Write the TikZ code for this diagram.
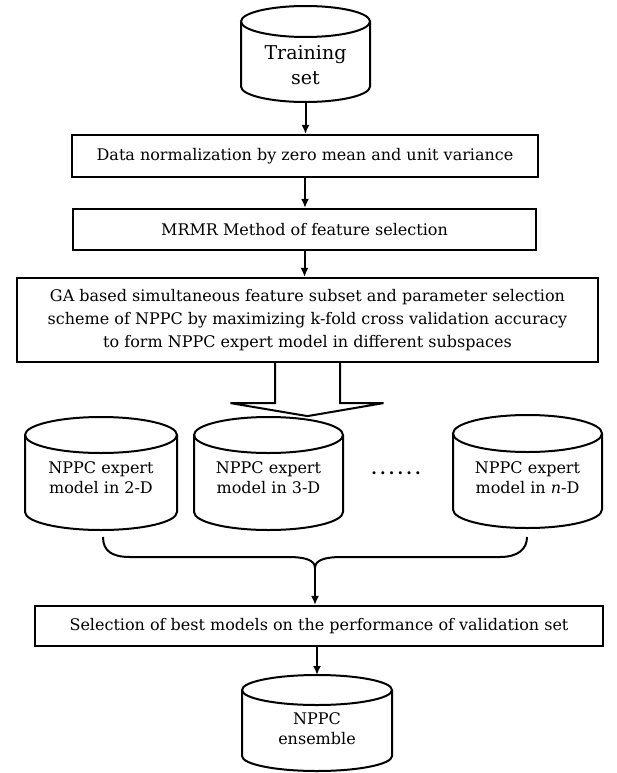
\documentclass[tikz,border=0pt]{standalone}
\usepackage{fontspec}
\setmainfont{DejaVu Serif}
\usetikzlibrary{arrows.meta,calc}
\newcommand{\cylshape}[5]{% name, rx, ry, up, down
  \coordinate (#1-top) at ($(#1.center)+(0,#4)$);
  \coordinate (#1-bot) at ($(#1.center)+(0,-#5)$);
  \draw[cylline] ($(#1-top)+(-#2,-#3)$) -- ($(#1-bot)+(-#2,#3)$)
     arc[start angle=180,end angle=360,x radius=#2bp,y radius=#3bp] -- ($(#1-top)+(#2,-#3)$);
  \draw[cylline] ($(#1-top)+(0,-#3)$) ellipse[x radius=#2bp,y radius=#3bp];
}
\begin{document}
\begin{tikzpicture}[x=1bp,y=1bp,
  proc/.style={draw,line width=2.2bp,inner sep=0pt,align=center,font=\fontsize{16bp}{23bp}\selectfont},
  cyltext/.style={inner sep=0pt,align=center,font=\fontsize{16bp}{20bp}\selectfont},
  cylline/.style={line width=2bp},
  arr/.style={line width=2bp,-{Latex[length=9bp,width=8bp]}},
  blockarrow/.style={line width=2bp,fill=white,line join=miter},
  bracestyle/.style={line width=2bp}
]
\useasboundingbox (0,0) rectangle (617,-773);

% training set
\node[cyltext,font=\fontsize{19bp}{25bp}\selectfont] (ts) at (305.5,-65.5) {Training\\set};
\cylshape{ts}{64.5}{15.5}{59.5}{36.5}

% process boxes
\node[proc,minimum width=466bp,minimum height=42bp] (b1) at (305,-156)
  {Data normalization by zero mean and unit variance};
\node[proc,minimum width=463bp,minimum height=41bp] (b2) at (304.5,-229.5)
  {MRMR Method of feature selection};
\node[proc,minimum width=581bp,minimum height=84bp] (b3) at (307.5,-320)
  {GA based simultaneous feature subset and parameter selection\\
   scheme of NPPC by maximizing k-fold cross validation accuracy\\
   to form NPPC expert model in different subspaces};

% expert cylinders
\node[cyltext] (c1) at (101,-478) {NPPC expert\\model in 2-D};
\cylshape{c1}{76}{18}{61}{52}
\node[cyltext] (c2) at (268.5,-478) {NPPC expert\\model in 3-D};
\cylshape{c2}{74.5}{18}{61}{52}
\node[cyltext] (cn) at (527.5,-478) {NPPC expert\\model in \textit{n}-D};
\cylshape{cn}{74.5}{18.5}{63}{50}
\node[font=\bfseries\fontsize{16bp}{20bp}\selectfont,inner sep=0pt] (dots) at (396,-473)
  {.\kern3.2bp.\kern3.2bp.\kern3.2bp.\kern3.2bp.\kern3.2bp.};

% selection box
\node[proc,minimum width=568bp,minimum height=40bp] (b4) at (319,-626)
  {Selection of best models on the performance of validation set};

% ensemble
\node[cyltext] (ens) at (317,-729) {NPPC\\ensemble};
\cylshape{ens}{75}{15}{54}{42}

% connectors
\draw[arr] (ts-bot) -- (ts-bot |- b1.north);
\draw[arr] (b1.south) -- (b1.south |- b2.north);
\draw[arr] (b2.south) -- (b2.south |- b3.north);

% block arrow
\draw[blockarrow] ($(b3.south)+(-32.5,0)$) -- ($(b3.south)+(-32.5,-40)$)
  -- ($(b3.south)+(-77,-40)$) -- ($(b3.south)+(0,-53)$) -- ($(b3.south)+(76,-40)$)
  -- ($(b3.south)+(32.5,-40)$) -- ($(b3.south)+(32.5,0)$);

% brace
\coordinate (brtip) at (315,-568);
\draw[bracestyle] ($(c1-bot)+(2,-7)$) .. controls ($(c1-bot)+(2,-21)$) and (112,-557) .. (130,-557)
  -- (288,-557) .. controls (305,-557) and (315,-560) .. (brtip)
  .. controls (315,-560) and (325,-557) .. (342,-557) -- (500,-557)
  .. controls (518,-557) and ($(cn-bot)+(-0.5,-21)$) .. ($(cn-bot)+(-0.5,-9)$);
\draw[arr] (brtip) -- (brtip |- b4.north);
\draw[arr] (b4.south -| ens-top) -- (ens-top);
\end{tikzpicture}
\end{document}
